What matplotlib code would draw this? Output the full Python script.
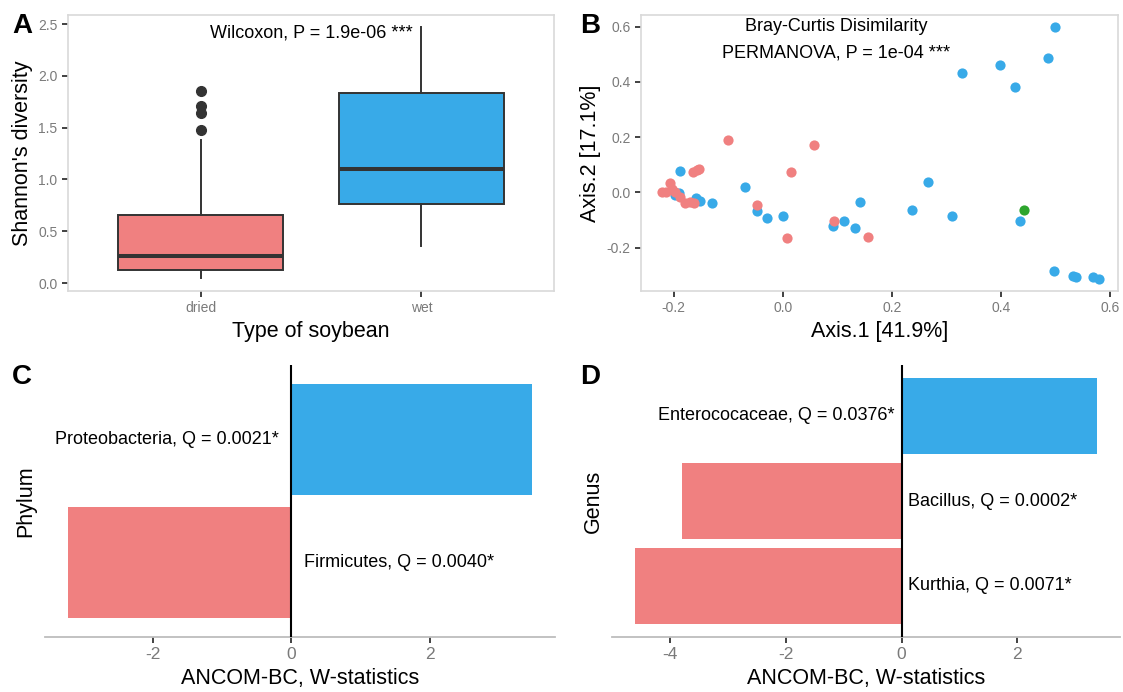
import matplotlib
matplotlib.use("Agg")
import matplotlib.pyplot as plt

plt.rcParams['font.family'] = ['Liberation Sans', 'DejaVu Sans']
plt.rcParams['axes.unicode_minus'] = False

# ---------------- data ----------------
# A: Shannon diversity boxplot (summary stats)
soy_types = ['dried', 'wet']
box_q1 = [0.125, 0.76]
box_med = [0.26, 1.10]
box_q3 = [0.66, 1.83]
box_lo = [0.045, 0.357]
box_hi = [1.38, 2.47]
dried_outliers = [1.85, 1.71, 1.64, 1.48]

# B: PCoA points
dried_x = [-0.101, 0.058, 0.016, -0.164, -0.158, -0.153, -0.221, -0.215, -0.207, -0.203,
           -0.197, -0.188, -0.179, -0.170, -0.162, -0.047, 0.094, 0.007, 0.157]
dried_y = [0.189, 0.173, 0.072, 0.075, 0.081, 0.083, 0.002, 0.002, 0.033, 0.014,
           0.002, -0.016, -0.037, -0.034, -0.040, -0.046, -0.103, -0.164, -0.160]
wet_x = [0.500, 0.486, 0.399, 0.328, 0.426, -0.188, -0.069, 0.266, -0.197, -0.190,
         -0.160, -0.152, -0.129, -0.047, -0.029, 0.000, 0.142, 0.238, 0.092, 0.113,
         0.132, 0.311, 0.436, 0.498, 0.533, 0.538, 0.570, 0.580]
wet_y = [0.600, 0.485, 0.460, 0.433, 0.382, 0.078, 0.021, 0.039, -0.010, -0.004,
         -0.022, -0.030, -0.037, -0.066, -0.094, -0.084, -0.035, -0.065, -0.121, -0.103,
         -0.128, -0.087, -0.103, -0.284, -0.302, -0.308, -0.305, -0.312]
other_x = [0.442]
other_y = [-0.065]

# C: phylum ANCOM-BC
phylum_names = ['Firmicutes', 'Proteobacteria']
phylum_w = [-3.23, 3.48]
phylum_q = ['0.0040', '0.0021']

# D: genus ANCOM-BC
genus_names = ['Kurthia', 'Bacillus', 'Enterococaceae']
genus_w = [-4.61, -3.80, 3.38]
genus_q = ['0.0071', '0.0002', '0.0376']

RED = '#F08080'
BLUE = '#38AAE8'
GREEN = '#2DA52D'
TICKLAB = '#7a7a7a'
BORDER = '#d9d9d9'

fig = plt.figure(figsize=(11.23, 6.92), dpi=100)
W, H = 1123, 692


def px_axes(left, top, right, bottom):
    return fig.add_axes([left / W, 1 - bottom / H, (right - left) / W, (bottom - top) / H])


def bordered(ax):
    for s in ax.spines.values():
        s.set_color(BORDER)
        s.set_linewidth(1.2)
    ax.tick_params(colors='#333333', labelcolor=TICKLAB, length=4, width=1.3)


# ---------------- A ----------------
axA = px_axes(68, 15, 554, 291)
stats = []
for i, name in enumerate(soy_types):
    stats.append(dict(label=name, q1=box_q1[i], med=box_med[i], q3=box_q3[i],
                      whislo=box_lo[i], whishi=box_hi[i],
                      fliers=dried_outliers if name == 'dried' else []))
bp = axA.bxp(stats, positions=[0, 1], widths=0.75, patch_artist=True, showcaps=False,
             boxprops=dict(linewidth=1.4, edgecolor='#333333'),
             medianprops=dict(linewidth=2.9, color='#333333'),
             whiskerprops=dict(linewidth=1.4, color='#333333'),
             flierprops=dict(marker='o', markersize=7, markerfacecolor='#333333',
                             markeredgecolor='#333333'))
for patch, c in zip(bp['boxes'], [RED, BLUE]):
    patch.set_facecolor(c)
axA.set_xlim(-0.6, 1.6)
axA.set_ylim(-0.077, 2.587)
axA.set_yticks([0, 0.5, 1.0, 1.5, 2.0, 2.5])
axA.set_xticks([0, 1])
axA.set_xticklabels(soy_types)
axA.tick_params(labelsize=10)
bordered(axA)
axA.set_ylabel("Shannon's diversity", fontsize=15.5, labelpad=4)
axA.set_xlabel('Type of soybean', fontsize=15.5, labelpad=4)
axA.text(0.5, 2.41, 'Wilcoxon, P = 1.9e-06 ***', ha='center', va='center', fontsize=13)
fig.text(12 / W, 1 - 13 / H, 'A', fontsize=20, fontweight='bold', va='top', ha='left')

# ---------------- B ----------------
axB = px_axes(641, 15, 1118, 291)
axB.scatter(wet_x, wet_y, s=54, color=BLUE, linewidths=0, zorder=3)
axB.scatter(dried_x, dried_y, s=54, color=RED, linewidths=0, zorder=3)
axB.scatter(other_x, other_y, s=54, color=GREEN, linewidths=0, zorder=3)
axB.set_xlim(-0.26, 0.615)
axB.set_ylim(-0.357, 0.642)
axB.set_xticks([-0.2, 0.0, 0.2, 0.4, 0.6])
axB.set_yticks([-0.2, 0.0, 0.2, 0.4, 0.6])
axB.tick_params(labelsize=10)
bordered(axB)
axB.set_xlabel('Axis.1 [41.9%]', fontsize=15.5, labelpad=4)
axB.set_ylabel('Axis.2 [17.1%]', fontsize=15.5, labelpad=4)
axB.text(0.098, 0.6, 'Bray-Curtis Disimilarity', ha='center', va='center', fontsize=13)
axB.text(0.098, 0.503, 'PERMANOVA, P = 1e-04 ***', ha='center', va='center', fontsize=13)
fig.text(580 / W, 1 - 13 / H, 'B', fontsize=20, fontweight='bold', va='top', ha='left')


# ---------------- C / D ----------------
def ancom(ax, names, wvals, qvals, ylab, off):
    pos = list(range(1, len(names) + 1))
    cols = [BLUE if w > 0 else RED for w in wvals]
    ax.barh(pos, wvals, height=0.9, color=cols, zorder=2)
    ax.axvline(0, color='black', linewidth=1.5, zorder=3)
    for p, n, w, q in zip(pos, names, wvals, qvals):
        if w > 0:
            ax.annotate(f'{n}, Q = {q}*', (0, p), xytext=(-off, 0), textcoords='offset points',
                        ha='right', va='center', fontsize=13)
        else:
            ax.annotate(f'{n}, Q = {q}*', (0, p), xytext=(off, 0), textcoords='offset points',
                        ha='left', va='center', fontsize=13)
    span = max(wvals) - min(min(wvals), 0)
    ax.set_xlim(min(wvals) - 0.05 * span, max(wvals) + 0.05 * span)
    ax.set_ylim(0.4, len(names) + 0.6)
    ax.set_yticks([])
    for s in ['top', 'right', 'left']:
        ax.spines[s].set_visible(False)
    ax.spines['bottom'].set_color('#bdbdbd')
    ax.spines['bottom'].set_linewidth(1.3)
    ax.tick_params(axis='x', colors='#333333', labelcolor=TICKLAB, labelsize=12.5,
                   length=4, width=1.3)
    ax.set_xlabel('ANCOM-BC, W-statistics', fontsize=15.5, labelpad=4)
    ax.set_ylabel(ylab, fontsize=15.5, labelpad=6)


axC = px_axes(45, 365, 555, 637)
ancom(axC, phylum_names, phylum_w, phylum_q, 'Phylum', 9)
axC.set_xticks([-2, 0, 2])
fig.text(12 / W, 1 - 364 / H, 'C', fontsize=20, fontweight='bold', va='top', ha='left')

axD = px_axes(612, 365, 1120, 637)
ancom(axD, genus_names, genus_w, genus_q, 'Genus', 5)
axD.set_xticks([-4, -2, 0, 2])
fig.text(580 / W, 1 - 364 / H, 'D', fontsize=20, fontweight='bold', va='top', ha='left')

fig.savefig('out.png', dpi=100, facecolor='white')
